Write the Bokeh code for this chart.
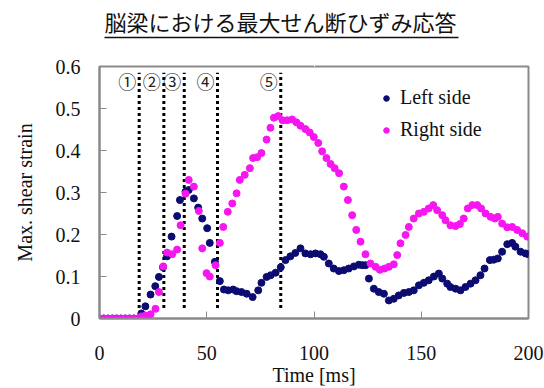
from bokeh.plotting import figure
from bokeh.models import ColumnDataSource, Legend, LegendItem, Range1d, FixedTicker, LinearAxis
from bokeh.core.properties import value
from bokeh.embed import file_html
from bokeh.resources import INLINE

title_text = "脳梁における最大せん断ひずみ応答"
x_label = "Time [ms]"
y_label = "Max. shear strain"
series_names = ["Left side", "Right side"]
x_ticks = [0, 50, 100, 150, 200]
y_ticks = [0, 0.1, 0.2, 0.3, 0.4, 0.5, 0.6]
event_times = [18.5, 30, 39.5, 55, 84.5]
event_labels = ["①", "②", "③", "④", "⑤"]

t_left = [0, 2, 4, 6, 8, 10, 12, 14, 16, 18,
          19.5, 21.4, 23.8, 26.0, 27.7, 29.6, 31.5, 33.6, 36.2, 37.5,
          40.1, 41.6, 44.0, 46.0, 47.9, 50.2, 51.4, 53.8, 56.1, 58.0,
          60.0, 62.3, 63.9, 66.2, 68.6, 71.4, 74.0, 75.5, 77.9, 79.8,
          82.1, 84.5, 86.7, 89.0, 91.3, 93.7, 96.0, 98.4, 100.7, 103.0,
          104.6, 106.9, 109.2, 111.6, 113.9, 116.2, 118.6, 120.9, 122.5, 124.0,
          125.6, 127.9, 130.2, 132.6, 134.9, 137.2, 139.5, 141.9, 144.2, 146.5,
          148.9, 151.2, 153.5, 155.9, 158.2, 159.8, 162.1, 163.6, 166.0, 168.3,
          170.6, 173.0, 175.3, 177.6, 179.5, 182.0, 183.8, 185.7, 187.7, 190.1,
          192.4, 193.9, 196.3, 198.6, 200.0]
v_left = [0, 0, 0, 0, 0, 0, 0, 0, 0, 0,
          0.012, 0.029, 0.057, 0.077, 0.099, 0.122, 0.148, 0.195, 0.244, 0.282,
          0.302, 0.306, 0.286, 0.264, 0.238, 0.215, 0.180, 0.135, 0.089, 0.069,
          0.067, 0.069, 0.065, 0.063, 0.059, 0.051, 0.067, 0.085, 0.099, 0.103,
          0.109, 0.122, 0.139, 0.148, 0.156, 0.167, 0.155, 0.153, 0.155, 0.153,
          0.147, 0.131, 0.119, 0.113, 0.115, 0.119, 0.124, 0.128, 0.127, 0.127,
          0.095, 0.071, 0.063, 0.059, 0.043, 0.047, 0.055, 0.061, 0.063, 0.067,
          0.079, 0.085, 0.091, 0.100, 0.107, 0.095, 0.083, 0.075, 0.071, 0.067,
          0.075, 0.083, 0.091, 0.103, 0.119, 0.139, 0.140, 0.143, 0.159, 0.177,
          0.180, 0.171, 0.159, 0.155, 0.153]

t_right = [0, 2, 4, 6, 8, 10, 12, 14, 16, 18,
           19.5, 21.4, 23.8, 26.1, 27.7, 29.7, 31.5, 33.9, 36.2, 37.8,
           40.1, 41.6, 44.0, 46.3, 47.9, 49.9, 51.4, 54.1, 56.1, 57.7,
           59.8, 61.9, 63.9, 65.4, 67.7, 70.1, 71.6, 73.5, 75.5, 77.9,
           79.7, 81.3, 83.3, 85.4, 87.5, 89.8, 91.8, 93.7, 96.0, 98.0,
           99.9, 102.0, 103.8, 105.8, 107.7, 109.6, 111.7, 113.9, 115.8, 117.8,
           119.7, 121.7, 124.0, 126.3, 128.7, 130.7, 132.9, 134.9, 137.2, 138.8,
           140.3, 142.7, 144.2, 146.5, 148.9, 151.2, 153.5, 155.6, 157.4, 159.8,
           161.3, 163.6, 166.0, 168.0, 169.8, 171.7, 173.8, 176.1, 177.9, 180.0,
           182.3, 184.3, 185.7, 187.7, 190.1, 192.4, 194.7, 197.1, 199.4]
v_right = [0, 0, 0, 0, 0, 0, 0, 0, 0, 0,
           0.005, 0.007, 0.010, 0.023, 0.063, 0.124, 0.157, 0.153, 0.164, 0.222,
           0.297, 0.330, 0.314, 0.256, 0.167, 0.108, 0.100, 0.127, 0.180, 0.218,
           0.254, 0.274, 0.298, 0.330, 0.342, 0.358, 0.382, 0.384, 0.394, 0.426,
           0.454, 0.478, 0.482, 0.472, 0.472, 0.474, 0.467, 0.459, 0.451, 0.443,
           0.432, 0.418, 0.398, 0.382, 0.368, 0.358, 0.346, 0.314, 0.282, 0.246,
           0.211, 0.183, 0.153, 0.131, 0.123, 0.116, 0.119, 0.123, 0.129, 0.151,
           0.179, 0.199, 0.218, 0.238, 0.250, 0.254, 0.262, 0.270, 0.258, 0.246,
           0.234, 0.222, 0.220, 0.225, 0.238, 0.262, 0.270, 0.270, 0.262, 0.250,
           0.242, 0.238, 0.242, 0.226, 0.217, 0.218, 0.211, 0.203, 0.195]

NAVY = "#0b0b72"
MAGENTA = "#f516f0"
SERIF = "Liberation Serif"

p = figure(width=544, height=388, output_backend="svg", toolbar_location=None,
           x_range=Range1d(0, 200), y_range=Range1d(0, 0.6),
           min_border_left=99, min_border_right=16, min_border_top=66, min_border_bottom=70)

p.title.text = title_text
p.title.text_font = "Noto Sans CJK JP"
p.title.text_font_size = "22px"
p.title.text_font_style = "normal"
p.title.text_color = "#111111"
p.title.align = "left"
p.title.offset = 5
p.title.standoff = 2

p.xgrid.visible = False
p.ygrid.visible = False
p.outline_line_color = "#8a8a8a"
p.outline_line_width = 2
p.background_fill_color = "white"
p.border_fill_color = "white"

for ax in (p.xaxis, p.yaxis):
    ax.axis_line_color = "#8a8a8a"
    ax.axis_line_width = 2
    ax.major_tick_in = 7
    ax.major_tick_out = 0
    ax.major_tick_line_color = "#8a8a8a"
    ax.major_tick_line_width = 1
    ax.minor_tick_line_color = None
    ax.major_label_text_font = SERIF
    ax.major_label_text_font_size = "20px"
    ax.major_label_text_color = "#111111"
    ax.axis_label_text_font = SERIF
    ax.axis_label_text_font_size = "20px"
    ax.axis_label_text_font_style = "normal"
    ax.axis_label_text_color = "#111111"

p.xaxis.ticker = FixedTicker(ticks=x_ticks)
p.yaxis.ticker = FixedTicker(ticks=y_ticks)
p.yaxis.major_label_overrides = {0: "0"}
p.xaxis.axis_label = x_label
p.yaxis.axis_label = y_label
p.xaxis.major_label_standoff = 27
p.xaxis.axis_label_standoff = 1
p.yaxis.major_label_standoff = 19
p.yaxis.axis_label_standoff = 17

# invisible spacer between the frame and the title underline
spacer = LinearAxis(ticker=FixedTicker(ticks=[100]), axis_line_color=None,
                    major_tick_line_color="white", minor_tick_line_color=None,
                    major_tick_in=0, major_tick_out=29, minor_tick_out=0,
                    minor_tick_in=0, major_label_standoff=0,
                    major_label_text_color=None)
p.add_layout(spacer, "above")

# underline of the title: a bounded axis line stacked right below the title
underline = LinearAxis(ticker=FixedTicker(ticks=[]), bounds=(2.3, 167.4),
                       axis_line_color="#111111", axis_line_width=1.5,
                       major_tick_line_color=None, minor_tick_line_color=None,
                       major_tick_in=0, major_tick_out=0, minor_tick_out=0,
                       minor_tick_in=0, major_label_standoff=0,
                       major_label_text_color=None)
p.add_layout(underline, "above")

ev = ColumnDataSource(dict(t=event_times, lab=event_labels))
p.segment(x0="t", x1="t", y0=0.025, y1=0.585, source=ev,
          line_color="black", line_width=3, line_dash="3 3")
p.text(x="t", y=0.565, text="lab", source=ev, text_font=value("Noto Sans CJK JP"),
       text_font_size="18px", text_align="right", text_baseline="middle",
       x_offset=-3, text_color="#222222")

r1 = p.scatter(t_left, v_left, size=7, color=NAVY)
r2 = p.scatter(t_right, v_right, size=7, color=MAGENTA)

legend = Legend(items=[LegendItem(label=series_names[0], renderers=[r1]),
                       LegendItem(label=series_names[1], renderers=[r2])],
                location=(280, 177), border_line_color=None, background_fill_alpha=0,
                padding=0, spacing=9, glyph_width=14, glyph_height=20, label_height=20,
                label_standoff=7, label_text_font=SERIF, label_text_font_size="20px",
                label_text_color="#111111")
p.add_layout(legend)

open("out.html", "w").write(file_html(p, INLINE))
